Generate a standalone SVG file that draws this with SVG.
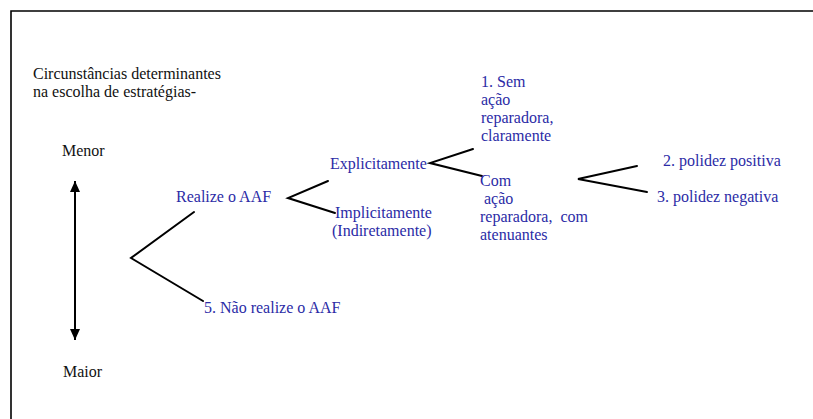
<svg xmlns="http://www.w3.org/2000/svg" width="813" height="419" viewBox="0 0 813 419">
  <style>
    .t { font-family: "Liberation Serif", "Times New Roman", serif; font-size: 16px; }
    .k { fill: #111111; }
    .b { fill: #2b2ba6; }
    .ln { stroke: #000000; stroke-width: 2; fill: none; stroke-linecap: round; }
    .frame { stroke: #000000; stroke-width: 1.6; fill: none; }
  </style>
  <defs>
    <marker id="tip" viewBox="0 0 10 10" refX="10" refY="5" markerWidth="11" markerHeight="10" markerUnits="userSpaceOnUse" orient="auto-start-reverse" preserveAspectRatio="none">
      <path d="M0,0 L10,5 L0,10 Z" fill="#000"/>
    </marker>
  </defs>
  <rect width="813" height="419" fill="#ffffff"/>
  <!-- page frame (top and left edges) -->
  <path class="frame" d="M11,430 L11,11 L820,11"/>

  <g class="t">
    <g id="heading">
      <text class="k" x="33" y="79">Circunstâncias determinantes</text>
      <text class="k" x="33" y="97">na escolha de estratégias-</text>
    </g>

    <g id="scale">
      <text class="k" x="62" y="156">Menor</text>
      <text class="k" x="63" y="377">Maior</text>
    </g>
  </g>

  <g id="connectors">
    <line x1="75" y1="181" x2="75" y2="340" stroke="#000" stroke-width="2" marker-start="url(#tip)" marker-end="url(#tip)"/>
    <polyline class="ln" points="194,212 131,258 203,301"/>
    <polyline class="ln" points="328,181 288,198 335,213"/>
    <polyline class="ln" points="473,149 430,163 482,176"/>
    <polyline class="ln" points="637,166 578,179 647,192"/>
  </g>

  <g class="t">
    <g id="realize">
      <text class="b" x="176" y="202">Realize o AAF</text>
    </g>
    <g id="nao-realize">
      <text class="b" x="204" y="313">5. Não realize o AAF</text>
    </g>
    <g id="explicitamente">
      <text class="b" x="330" y="169">Explicitamente</text>
    </g>
    <g id="implicitamente">
      <text class="b" x="335" y="218">Implicitamente</text>
      <text class="b" x="332" y="236">(Indiretamente)</text>
    </g>
    <g id="sem-acao">
      <text class="b" x="481" y="87">1. Sem</text>
      <text class="b" x="481" y="105">ação</text>
      <text class="b" x="481" y="123">reparadora,</text>
      <text class="b" x="481" y="141">claramente</text>
    </g>
    <g id="com-acao">
      <text class="b" x="480" y="186">Com</text>
      <text class="b" x="484" y="204">ação</text>
      <text class="b" x="480" y="222" xml:space="preserve">reparadora,  com</text>
      <text class="b" x="480" y="240">atenuantes</text>
    </g>
    <g id="positiva">
      <text class="b" x="663" y="166">2. polidez positiva</text>
    </g>
    <g id="negativa">
      <text class="b" x="657" y="202">3. polidez negativa</text>
    </g>
  </g>
</svg>
